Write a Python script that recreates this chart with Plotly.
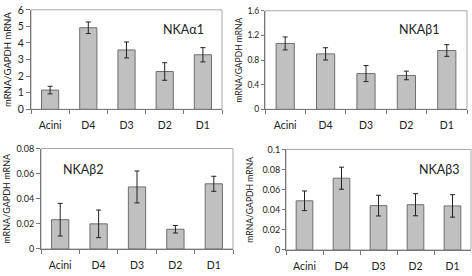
import plotly.graph_objects as go

categories = ["Acini", "D4", "D3", "D2", "D1"]

a1_vals = [1.16, 4.92, 3.58, 2.28, 3.29]
a1_err = [0.23, 0.35, 0.48, 0.53, 0.43]

b1_vals = [1.07, 0.90, 0.58, 0.55, 0.955]
b1_err = [0.105, 0.10, 0.13, 0.07, 0.095]

b2_vals = [0.0233, 0.020, 0.0494, 0.0157, 0.0519]
b2_err = [0.013, 0.011, 0.0127, 0.003, 0.006]

b3_vals = [0.0489, 0.0714, 0.0441, 0.045, 0.0438]
b3_err = [0.0098, 0.011, 0.0103, 0.011, 0.0112]

titles = ["NKAα1", "NKAβ1", "NKAβ2", "NKAβ3"]
yranges = [(0, 6, 1), (0, 1.6, 0.4), (0, 0.08, 0.02), (0, 0.1, 0.02)]

W, H = 472, 276
# panel boxes in pixels: left, right, top, bottom
boxes = [(31, 222, 4, 108), (265, 467, 5, 108), (41, 233, 149, 254), (286, 471, 150, 255)]
title_pos = [(183, 25), (419, 25), (83, 171), (439, 171)]
ytitle_x = [7.5, 239.5, 7, 250]
tickfont_sizes = [10.5, 8.5, 9, 9]
ytitle_sizes = [9.5, 8.5, 9, 8.6]
tick_lens = [4, 3, 4, 3]

series = [(a1_vals, a1_err), (b1_vals, b1_err), (b2_vals, b2_err), (b3_vals, b3_err)]

FONT = "Lato, Liberation Sans, sans-serif"
AXIS_COL = "#777777"
FRAME_COL = "#a8a8a8"

fig = go.Figure()
layout = dict(width=W, height=H, margin=dict(l=0, r=0, t=0, b=0),
              paper_bgcolor="white", plot_bgcolor="white", showlegend=False,
              font=dict(family=FONT, color="#222222"))
annotations = []
shapes = []
for i, ((vals, errs), box) in enumerate(zip(series, boxes)):
    n = i + 1
    xa = "x" if n == 1 else f"x{n}"
    ya = "y" if n == 1 else f"y{n}"
    l, r, t, b = box
    fig.add_trace(go.Bar(
        x=categories, y=vals, xaxis=xa, yaxis=ya, width=0.45,
        marker=dict(color="#c0c0c0", line=dict(color="#6e6e6e", width=1)),
        error_y=dict(type="data", array=errs, visible=True, color="#222222",
                     thickness=1, width=2.5),
    ))
    xkey = "xaxis" if n == 1 else f"xaxis{n}"
    ykey = "yaxis" if n == 1 else f"yaxis{n}"
    y0, y1, dt = yranges[i]
    layout[xkey] = dict(domain=[l / W, r / W], anchor=ya, type="category",
                        showline=True, linecolor=AXIS_COL, linewidth=1,
                        ticks="outside", tickson="boundaries", ticklen=4,
                        tickcolor=AXIS_COL, showgrid=False, zeroline=False,
                        tickfont=dict(size=10.5, family=FONT, color="#222222"),
                        ticklabelstandoff=6, fixedrange=True)
    layout[ykey] = dict(domain=[1 - b / H, 1 - t / H], anchor=xa,
                        range=[y0, y1], dtick=dt, tick0=0,
                        showline=True, linecolor=AXIS_COL, linewidth=1,
                        ticks="outside", ticklen=tick_lens[i], tickcolor=AXIS_COL,
                        showgrid=False, zeroline=False,
                        tickfont=dict(size=tickfont_sizes[i], family=FONT, color="#222222"),
                        fixedrange=True)
    shapes.append(dict(type="rect", xref=f"{xa} domain", yref=f"{ya} domain",
                       x0=0, x1=1, y0=0, y1=1,
                       line=dict(color=FRAME_COL, width=1), layer="below"))
    annotations.append(dict(text=titles[i], x=title_pos[i][0] / W, y=1 - title_pos[i][1] / H,
                            xref="paper", yref="paper", showarrow=False,
                            xanchor="center", yanchor="middle",
                            font=dict(size=12.5, family=FONT, color="#222222")))
    annotations.append(dict(text="mRNA/GAPDH mRNA", x=ytitle_x[i] / W,
                            y=1 - ((t + b) / 2) / H, xref="paper", yref="paper",
                            showarrow=False, textangle=-90,
                            xanchor="center", yanchor="middle",
                            font=dict(size=ytitle_sizes[i], family=FONT, color="#222222")))

layout["annotations"] = annotations
layout["shapes"] = shapes
fig.update_layout(**layout)
fig.write_html("out.html", config={"displayModeBar": False, "staticPlot": True},
               post_script="document.body.style.margin='0';document.body.style.padding='0';document.body.style.overflow='hidden';")
